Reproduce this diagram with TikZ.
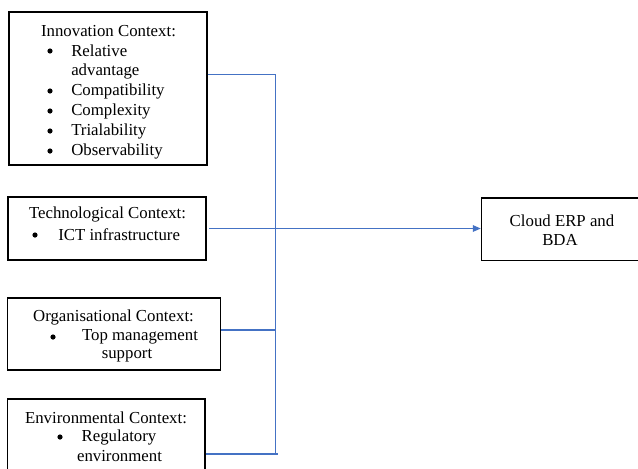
\documentclass[tikz,border=0pt]{standalone}
\usepackage{fontspec}
\setmainfont{Liberation Serif}
\usetikzlibrary{arrows.meta}
\definecolor{linkblue}{HTML}{4472C4}
\begin{document}
\begin{tikzpicture}[x=0.75pt,y=-0.75pt,
  box/.style={draw=black, line width=1.1pt, inner sep=0pt},
  txt/.style={inner sep=0pt, font=\fontsize{12.6}{15}\selectfont, anchor=center, yshift=-0.75pt},
  lft/.style={txt, anchor=west},
  bul/.style={circle, fill=black, inner sep=0pt, minimum size=3.9pt},
  link/.style={draw=linkblue, line width=0.9pt}]
\useasboundingbox (0,0) rectangle (638,468);
% boxes
\node[box, minimum width=148.5pt, minimum height=114.75pt] (b1) at (108,88.5) {};
\node[box, minimum width=148.5pt, minimum height=47.25pt] (b2) at (107,228.5) {};
\node[box, minimum width=159.75pt, minimum height=54pt] (b3) at (114,334) {};
\node[box, minimum width=148.1pt, minimum height=57pt] (b4) at (106.25,437) {};
\node[box, minimum width=122.25pt, minimum height=47pt] (cl) at (563,229.3) {};
% box 1 text
\node[txt] (t1) at (108.5,30) {Innovation Context:};
\node[bul] (u1a) at (50,51) {};
\node[lft] (i1a) at (71,50) {Relative};
\node[lft] (i1b) at (71,70) {advantage};
\node[bul] (u1c) at (50,91) {};
\node[lft] (i1c) at (71,90) {Compatibility};
\node[bul] (u1d) at (50,111) {};
\node[lft] (i1d) at (71,110) {Complexity};
\node[bul] (u1e) at (50,131) {};
\node[lft] (i1e) at (71,130) {Trialability};
\node[bul] (u1f) at (50,151) {};
\node[lft] (i1f) at (71,150) {Observability};
% box 2 text
\node[txt] (t2) at (107.5,213) {Technological Context:};
\node[bul] (u2) at (35,235) {};
\node[lft] (i2) at (58,234) {ICT infrastructure};
% box 3 text
\node[txt] (t3) at (113.5,316) {Organisational Context:};
\node[bul] (u3) at (53,337) {};
\node[txt] (i3a) at (140,336) {Top management};
\node[txt] (i3b) at (127,355) {support};
% box 4 text
\node[txt] (t4) at (106,417) {Environmental Context:};
\node[bul] (u4) at (60,437) {};
\node[txt] (i4a) at (119,436) {Regulatory};
\node[txt] (i4b) at (119.5,455) {environment};
% cloud text
\node[txt] (c1) at (562,220) {Cloud ERP and};
\node[txt] (c2) at (560,239) {BDA};
% connectors
\coordinate (j1) at (275.7,74.7);
\coordinate (j3) at (275.7,330);
\coordinate (j4) at (275.7,454);
\coordinate (e4) at (278,454);
\draw[link] (b1.east |- j1) -- (j1) -- (j4);
\draw[link] (b3.east |- j3) -- (j3);
\draw[link] (b4.east |- e4) -- (e4);
\draw[link, -{Triangle[length=6pt,width=5pt]}] ([xshift=2pt]b2.east) -- (cl.west |- b2.east);
\end{tikzpicture}
\end{document}
